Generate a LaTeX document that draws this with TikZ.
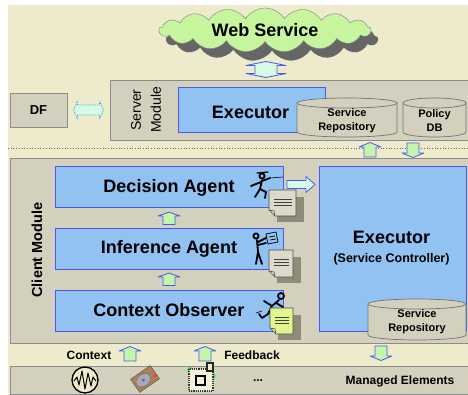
\documentclass[tikz,border=0pt]{standalone}
\usepackage{fontspec}
\setmainfont{Liberation Sans}
\usepackage{xcolor}
\usepackage{tikz}
\usetikzlibrary{shapes,shapes.symbols,positioning,calc}

\definecolor{bgbeige}{HTML}{EDEBCC}
\definecolor{modgray}{HTML}{D4D0BE}
\definecolor{agentblue}{HTML}{92C2F2}
\definecolor{edgeblue}{HTML}{4A5AF0}
\definecolor{cloudgreen}{HTML}{C6F59E}
\definecolor{arrowgreen}{HTML}{C4F5A8}
\definecolor{mint}{HTML}{D6FAE4}
\definecolor{docgray}{HTML}{DEDACB}
\definecolor{docshade}{HTML}{8E8B78}
\definecolor{docyellow}{HTML}{E2F58E}

% memo sheet with a turned-down corner and a drop shade
\newcommand{\memo}[5]{%
  \fill[docshade] (#1+8,#2+7) rectangle (#3+8,#4+6);
  \draw[black!70,fill=#5,line width=0.6pt] (#1,#2) -- (#3,#2) -- (#3,#4) -- (#1+6,#4) -- (#1,#4-6) -- cycle;
  \draw[black!70,line width=0.6pt] (#1,#4-6) -- (#1+5,#4-5) -- (#1+6,#4);
  \draw[black!75,line width=0.8pt] (#1+5,#2+9) -- (#3-4,#2+9) (#1+5,#2+12) -- (#3-4,#2+12) (#1+5,#2+15) -- (#3-4,#2+15);
}

% storage drum: left, top, right, bottom
\newcommand{\drum}[4]{%
  \draw[black!55,fill=modgray,line width=0.7pt] (#1,#2+5) -- (#1,#4-5)
     arc[start angle=180,end angle=0,x radius={(#3-#1)/2},y radius=5] -- (#3,#2+5) -- cycle;
  \draw[black!55,fill=modgray,line width=0.7pt] ({(#1+#3)/2},#2+5) ellipse [x radius={(#3-#1)/2},y radius=5];
}

\tikzset{
  flow/.style={draw=edgeblue,line width=0.8pt,line join=round},
  upflow/.pic={\draw[flow,fill=arrowgreen] (-6,7) -- (-6,-3) -- (-11,-3) -- (0,-7.5) -- (11,-3) -- (6,-3) -- (6,7) -- cycle;},
  rightflow/.pic={\draw[flow,fill=mint] (-14,-4) -- (5,-4) -- (5,-8) -- (14,0) -- (5,8) -- (5,4) -- (-14,4) -- cycle;},
  ibeam/.pic={\draw[flow,fill=mint] (-11,-4) -- (-20,-4) -- (0,-8) -- (20,-4) -- (11,-4) -- (11,4) -- (20,4) -- (0,8) -- (-20,4) -- (-11,4) -- cycle;},
  dfflow/.pic={\draw[flow,draw=edgeblue!60!cyan,densely dotted,fill=mint] (-11,-5) -- (-11,-9) -- (-15,0) -- (-11,9) -- (-11,5) -- (11,5) -- (11,9) -- (15,0) -- (11,-9) -- (11,-5) -- cycle;}
}

\begin{document}
\begin{tikzpicture}[x=1pt,y=-1pt,
    module/.style={draw=black!45,fill=modgray,line width=0.7pt},
    agent/.style={draw=edgeblue,fill=agentblue,line width=1pt,inner sep=0pt,font=\bfseries\fontsize{18}{20}\selectfont},
    drumtext/.style={align=center,font=\bfseries\fontsize{11}{14}\selectfont},
    puffs/.style={cloud,cloud puffs=17,cloud puff arc=115,aspect=4.8,minimum width=212pt,minimum height=44pt,inner sep=0pt},
    figure/.style={line width=1.8pt,line cap=round,line join=round}
]
    \useasboundingbox (0,0) rectangle (468,395);
    \fill[bgbeige] (8,5) rectangle (468,395);

    % Web service cloud
    \node[puffs,fill=black!60] at (272,39) {};
    \node[puffs,fill=cloudgreen,draw=black!50] (web) at (265,30) {};
    \node[font=\bfseries\fontsize{18}{20}\selectfont] at (web) {Web Service};

    % Server module
    \node[module,minimum width=362pt,minimum height=60pt,inner sep=0pt] (server) at (291,110) {};
    \node[rotate=90,align=center,font=\fontsize{14}{20}\selectfont] at (146,110) {Server\\Module};
    \node[agent,minimum width=147pt,minimum height=45pt] (srvexec) at (251.5,110.5) {};
    \node[font=\bfseries\fontsize{18}{20}\selectfont] at (250.5,112) {Executor};
    \drum{297}{98}{397}{137}
    \node[drumtext] (srvrepo) at (347,121) {Service\\Repository};
    \drum{403}{98}{466}{137}
    \node[drumtext] (policy) at (434.5,121) {Policy\\DB};

    \pic at (266,69.5) {ibeam};

    % Directory facilitator
    \node[module,minimum width=57pt,minimum height=34pt,font=\bfseries\fontsize{13}{15}\selectfont] (df) at (38.5,110) {DF};
    \pic at ($(df.east)!0.5!(server.west)$) {dfflow};

    \draw[black!60,dotted,line width=0.7pt] (8,148) -- (468,148);
    \pic at (370,150) {upflow};
    \pic[rotate=180] at (413,150) {upflow};

    % Client module
    \node[module,minimum width=460pt,minimum height=185pt,inner sep=0pt] (client) at (240,250.5) {};
    \node[rotate=90,font=\bfseries\fontsize{14.5}{16}\selectfont] at (37,250) {Client Module};

    \node[agent,minimum width=228pt,minimum height=41pt] (decision) at (169,187.5) {Decision Agent};
    \node[agent,minimum width=228pt,minimum height=40pt] (inference) at (169,249) {Inference Agent};
    \node[agent,minimum width=228pt,minimum height=41pt] (observer) at (169,310.5) {Context Observer};

    \pic[yscale=0.85] at ($(inference.north)!0.5!(decision.south)$) {upflow};
    \pic[yscale=0.85] at ($(observer.north)!0.5!(inference.south)$) {upflow};

    \node[agent,minimum width=147pt,minimum height=164pt] (cliexec) at (392.5,249) {};
    \node[align=center,font=\bfseries\fontsize{18}{20}\selectfont] at (391.5,248)
        {Executor\\[-1pt]{\fontsize{12.5}{14}\selectfont(Service Controller)}};
    \drum{368}{299}{466}{340}
    \node[drumtext] (clirepo) at (417,321.5) {Service\\Repository};

    \pic at ($(decision.east)!0.5!(cliexec.west |- decision.east)+(0,-3)$) {rightflow};

    % agents with their memos
    \draw[figure] (262,176) circle (2.6);
    \draw[figure,line width=1.2pt] (257,173) -- (268,172);
    \draw[figure] (262,180) -- (260,189) -- (255,197) (260,189) -- (266,192) -- (265,198);
    \draw[figure] (261,182) -- (251,186) (262,181) -- (270,178);
    \draw[line width=0.6pt] (270,178) -- (283,177);
    \memo{269}{190}{296}{216}{docgray}

    \draw[figure] (256,236) circle (2.6);
    \draw[figure] (257,240) -- (258,252) -- (256,264) (258,252) -- (262,264);
    \draw[figure] (258,242) -- (266,238) (258,245) -- (266,243);
    \draw[line width=0.7pt] (266,234) -- (276,232) -- (278,242) -- (268,244) -- cycle (269,237) -- (275,236) (270,240) -- (276,239);
    \memo{269}{250}{293}{277}{docgray}

    \draw[figure] (281,296) circle (3);
    \draw[figure] (279,300) -- (272,306) -- (268,314) (272,306) -- (264,301) (276,303) -- (283,307);
    \draw[figure] (268,314) -- (262,318) -- (259,314) (270,313) -- (275,318);
    \draw[line width=0.6pt] (262,311) -- (256,313);
    \memo{270}{308}{293}{334}{docyellow}

    % exchange with the managed elements
    \node[font=\bfseries\fontsize{12}{14}\selectfont] (ctx) at (89,355) {Context};
    \pic at (130,354) {upflow};
    \node[font=\bfseries\fontsize{12}{14}\selectfont] (fb) at (252,355) {Feedback};
    \pic at (205,354) {upflow};
    \pic[rotate=180] at (381,353) {upflow};

    % Managed elements
    \node[module,minimum width=460pt,minimum height=28pt,inner sep=0pt] (managed) at (240,380) {};
    \node[font=\bfseries\fontsize{12}{14}\selectfont] at (400,381) {Managed Elements};
    \node[font=\bfseries\fontsize{12}{14}\selectfont] at (258,381) {...};

    \draw[line width=1.3pt,fill=bgbeige] (85,380) circle (13);
    \draw[line width=1pt,line join=round] (74,381) -- (77,377) -- (79,385) -- (82,371) -- (85,389) -- (88,373) -- (91,386) -- (93,377) -- (96,381);

    \begin{scope}[shift={(145,379)},rotate=35]
        \draw[black!70,fill=brown!70!gray] (-12,-8) rectangle (12,8);
        \draw[black!60,fill=blue!15!gray!60] (-2,0) ellipse (8 and 6);
        \fill[black!60] (-2,0) circle (1.5);
        \fill[red!80] (10,3) circle (1.8);
    \end{scope}

    \fill[green!80!black!70] (190,370) circle (3) (212,376) circle (3.5) (192,390) circle (2.5);
    \draw[black!80,densely dotted,fill=bgbeige!70,line width=1.2pt] (189,369) rectangle (213,391);
    \draw[black,line width=1.4pt] (196,376) rectangle (205,385);
    \fill[black!85] (206,362) rectangle (214,372);
    \fill[bgbeige] (208,364) rectangle (212,370);
\end{tikzpicture}
\end{document}
